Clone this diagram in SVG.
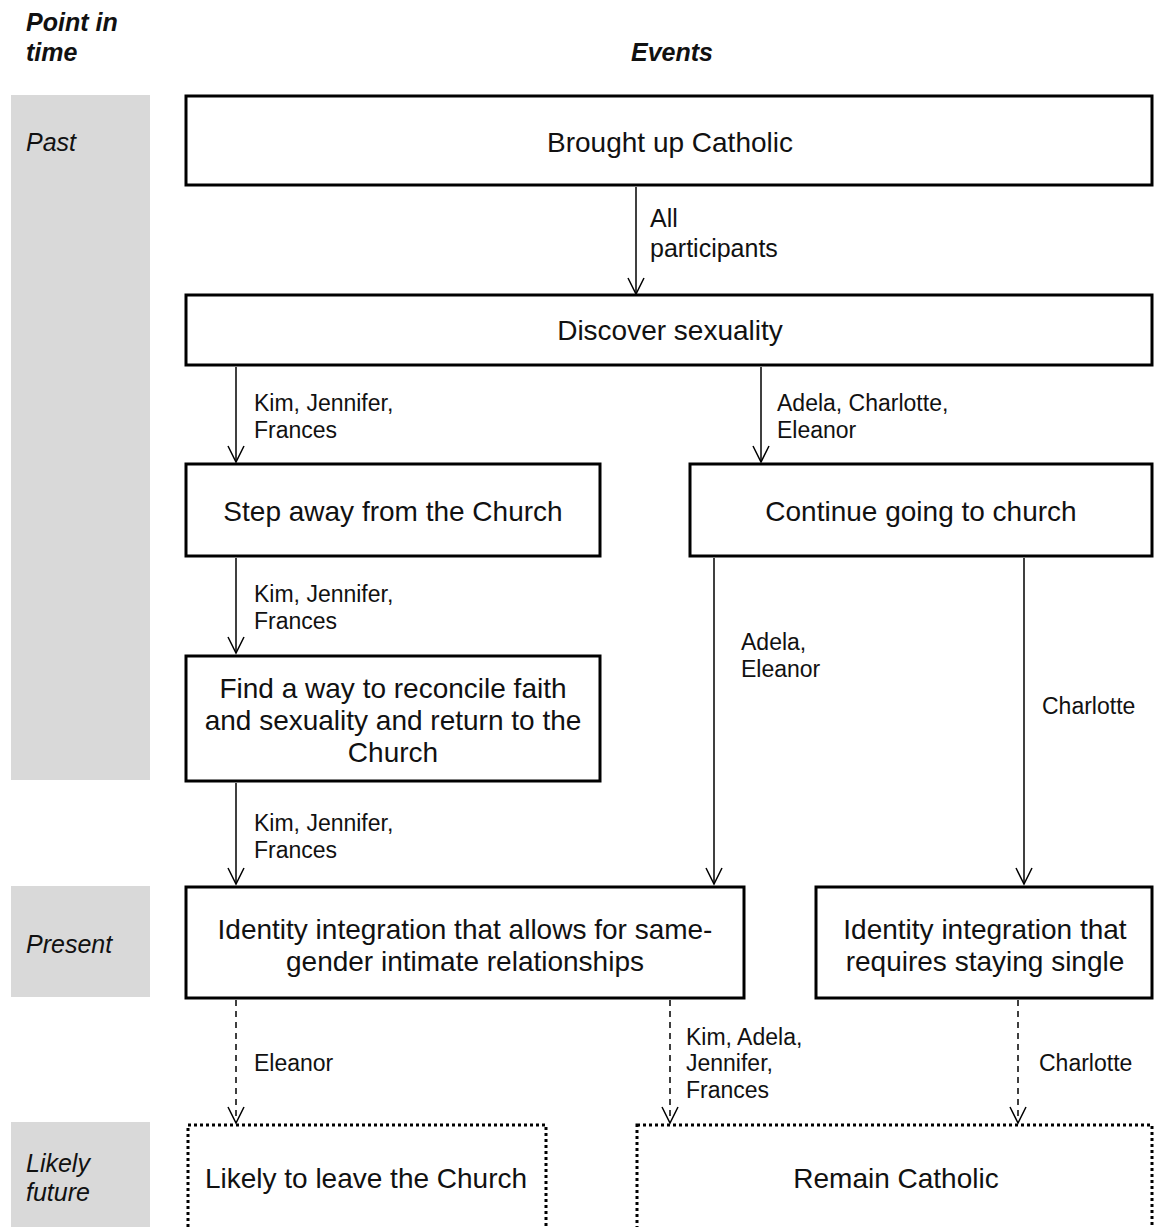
<svg xmlns="http://www.w3.org/2000/svg" width="1155" height="1227" viewBox="0 0 1155 1227">
<style>
text{font-family:"Liberation Sans",Arial,sans-serif;fill:#111}
.hdr{font-size:25px;font-weight:bold;font-style:italic}
.per{font-size:25px;font-style:italic}
.box{fill:#fff;stroke:#000;stroke-width:3}
.dot{fill:#fff;stroke:#000;stroke-width:3;stroke-dasharray:3 3}
.bt{font-size:28px;text-anchor:middle}
.lb{font-size:23px}
.lbl{font-size:25px}
.band{fill:#d9d9d9}
.ln{stroke:#000;stroke-width:1.5;fill:none}
.dl{stroke:#000;stroke-width:1.5;fill:none;stroke-dasharray:6 5}
</style>
<defs>
<marker id="vs" viewBox="0 0 20 20" refX="10" refY="18" markerWidth="20" markerHeight="20" markerUnits="userSpaceOnUse" orient="0">
<path d="M2,2 L10,18 L18,2" fill="none" stroke="#000" stroke-width="1.5"/>
</marker>
</defs>
<g id="headers">
<text class="hdr" x="26" y="31">Point in</text>
<text class="hdr" x="26" y="61">time</text>
<text class="hdr" x="672" y="61" text-anchor="middle">Events</text>
</g>
<g id="band-past"><rect class="band" x="11" y="95" width="139" height="685"/><text class="per" x="26" y="151">Past</text></g>
<g id="band-present"><rect class="band" x="11" y="886" width="139" height="111"/><text class="per" x="26" y="953">Present</text></g>
<g id="band-future"><rect class="band" x="11" y="1122" width="139" height="105"/><text class="per" x="26" y="1172">Likely</text><text class="per" x="26" y="1201">future</text></g>
<g id="connectors">
<line class="ln" x1="636" y1="187" x2="636" y2="294" marker-end="url(#vs)"/>
<text class="lbl" x="650" y="227">All</text>
<text class="lbl" x="650" y="257">participants</text>
<line class="ln" x1="236" y1="367" x2="236" y2="462" marker-end="url(#vs)"/>
<text class="lb" x="254" y="411">Kim, Jennifer,</text>
<text class="lb" x="254" y="438">Frances</text>
<line class="ln" x1="761" y1="367" x2="761" y2="462" marker-end="url(#vs)"/>
<text class="lb" x="777" y="411">Adela, Charlotte,</text>
<text class="lb" x="777" y="438">Eleanor</text>
<line class="ln" x1="236" y1="558" x2="236" y2="653" marker-end="url(#vs)"/>
<text class="lb" x="254" y="602">Kim, Jennifer,</text>
<text class="lb" x="254" y="629">Frances</text>
<line class="ln" x1="714" y1="558" x2="714" y2="884" marker-end="url(#vs)"/>
<text class="lb" x="741" y="650">Adela,</text>
<text class="lb" x="741" y="677">Eleanor</text>
<line class="ln" x1="1024" y1="558" x2="1024" y2="884" marker-end="url(#vs)"/>
<text class="lb" x="1042" y="714">Charlotte</text>
<line class="ln" x1="236" y1="783" x2="236" y2="884" marker-end="url(#vs)"/>
<text class="lb" x="254" y="831">Kim, Jennifer,</text>
<text class="lb" x="254" y="858">Frances</text>
<line class="dl" x1="236" y1="1000" x2="236" y2="1123" marker-end="url(#vs)"/>
<text class="lb" x="254" y="1071">Eleanor</text>
<line class="dl" x1="670" y1="1000" x2="670" y2="1123" marker-end="url(#vs)"/>
<text class="lb" x="686" y="1045">Kim, Adela,</text>
<text class="lb" x="686" y="1071">Jennifer,</text>
<text class="lb" x="686" y="1098">Frances</text>
<line class="dl" x1="1018" y1="1000" x2="1018" y2="1123" marker-end="url(#vs)"/>
<text class="lb" x="1039" y="1071">Charlotte</text>
</g>
<g id="n1"><rect class="box" x="186" y="96" width="966" height="89"/><text class="bt" x="670" y="152">Brought up Catholic</text></g>
<g id="n2"><rect class="box" x="186" y="295" width="966" height="70"/><text class="bt" x="670" y="340">Discover sexuality</text></g>
<g id="n3"><rect class="box" x="186" y="464" width="414" height="92"/><text class="bt" x="393" y="521">Step away from the Church</text></g>
<g id="n4"><rect class="box" x="690" y="464" width="462" height="92"/><text class="bt" x="921" y="521">Continue going to church</text></g>
<g id="n5"><rect class="box" x="186" y="656" width="414" height="125"/><text class="bt" x="393" y="698">Find a way to reconcile faith</text><text class="bt" x="393" y="730">and sexuality and return to the</text><text class="bt" x="393" y="762">Church</text></g>
<g id="n6"><rect class="box" x="186" y="887" width="558" height="111"/><text class="bt" x="465" y="939">Identity integration that allows for same-</text><text class="bt" x="465" y="971">gender intimate relationships</text></g>
<g id="n7"><rect class="box" x="816" y="887" width="336" height="111"/><text class="bt" x="985" y="939">Identity integration that</text><text class="bt" x="985" y="971">requires staying single</text></g>
<g id="n8"><rect class="dot" x="188" y="1125" width="358" height="110"/><text class="bt" x="366" y="1188">Likely to leave the Church</text></g>
<g id="n9"><rect class="dot" x="637" y="1125" width="515" height="110"/><text class="bt" x="896" y="1188">Remain Catholic</text></g>
</svg>
